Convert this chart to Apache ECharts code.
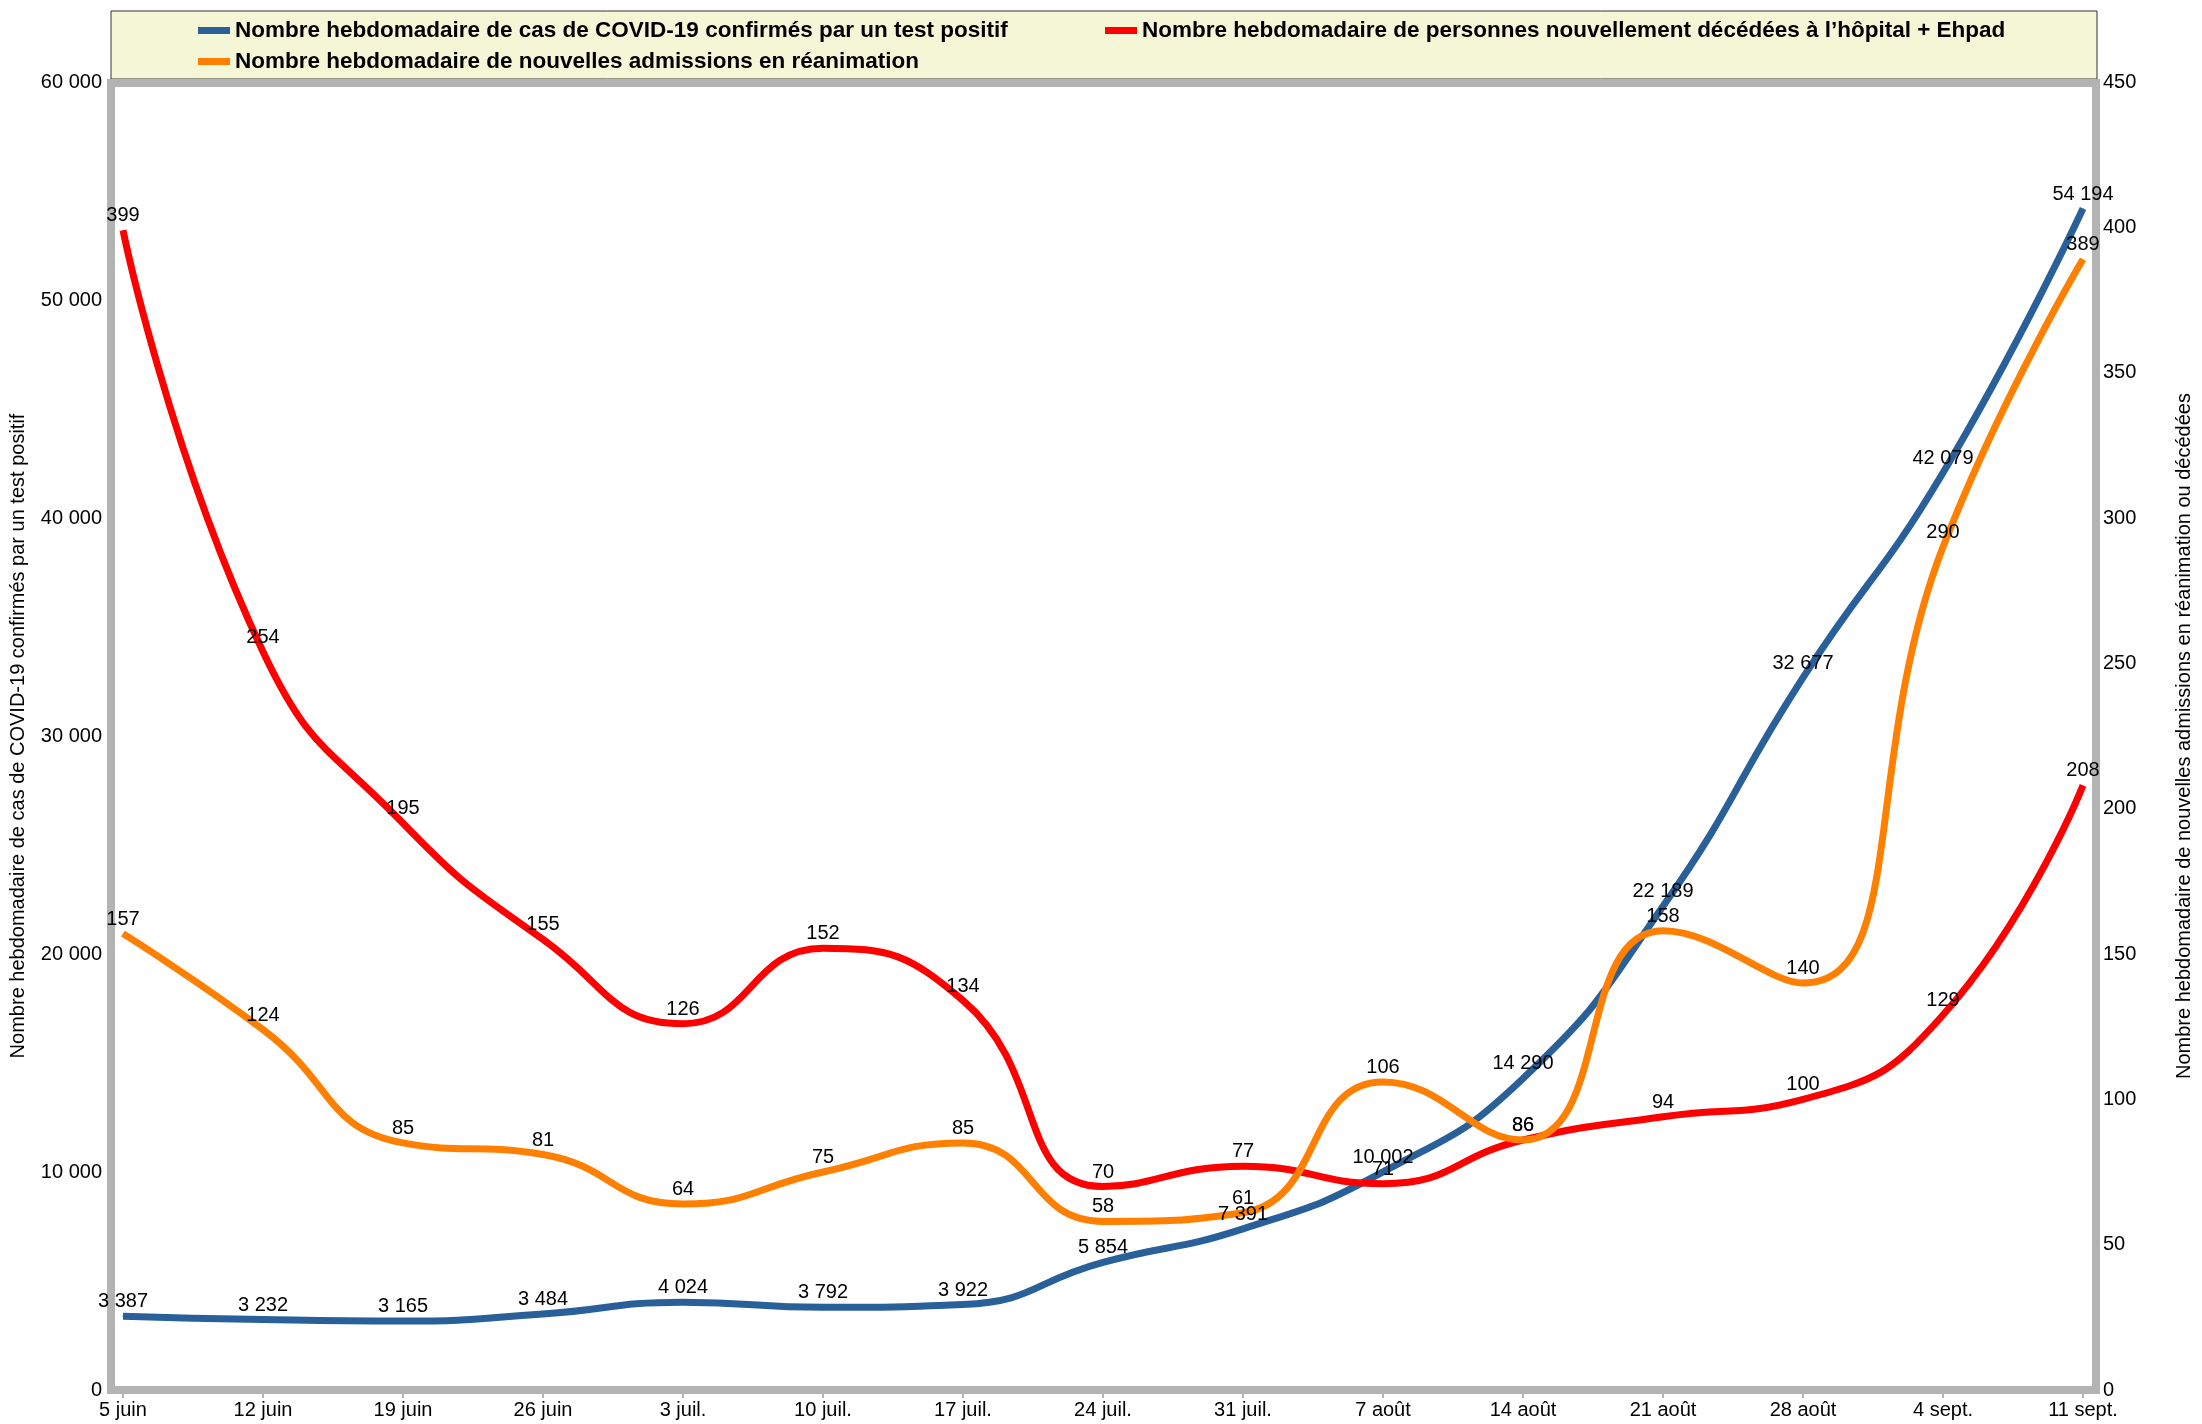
<!DOCTYPE html>
<html>
<head>
<meta charset="utf-8">
<script src="https://cdn.jsdelivr.net/npm/echarts@6/dist/echarts.min.js"></script>
<style>
  html, body { margin: 0; padding: 0; background: #fff; }
  #chart { width: 2202px; height: 1424px; }
</style>
</head>
<body>
<div id="chart"></div>
<script>
// semaines (date de début)
const weeks = ['5 juin', '12 juin', '19 juin', '26 juin', '3 juil.', '10 juil.', '17 juil.',
  '24 juil.', '31 juil.', '7 août', '14 août', '21 août', '28 août', '4 sept.', '11 sept.'];

const casName = 'Nombre hebdomadaire de cas de COVID-19 confirmés par un test positif';
const decesName = 'Nombre hebdomadaire de personnes nouvellement décédées à l\u2019hôpital + Ehpad';
const reaName = 'Nombre hebdomadaire de nouvelles admissions en réanimation';

const cas = [3387, 3232, 3165, 3484, 4024, 3792, 3922, 5854, 7391, 10002, 14290, 22189, 32677, 42079, 54194];
const deces = [399, 254, 195, 155, 126, 152, 134, 70, 77, 71, 86, 94, 100, 129, 208];
const rea = [157, 124, 85, 81, 64, 75, 85, 58, 61, 106, 86, 158, 140, 290, 389];

const font = 'Liberation Sans, Arial, sans-serif';

function fmt(v) {
  return String(v).replace(/\B(?=(\d{3})+(?!\d))/g, ' ');
}

function makeSeries(name, data, color, axis) {
  return {
    name: name,
    type: 'line',
    yAxisIndex: axis,
    data: data,
    smooth: 0.5,
    symbol: 'circle',
    symbolSize: 1,
    lineStyle: { width: 7, color: color },
    itemStyle: { color: color },
    label: {
      show: true,
      position: 'top',
      distance: 4,
      color: '#000',
      fontFamily: font,
      fontSize: 20,
      formatter: p => fmt(p.value)
    },
    emphasis: { disabled: true }
  };
}

function makeLegend(name, left, top) {
  return {
    data: [name],
    left: left,
    top: top,
    padding: 0,
    icon: 'rect',
    itemWidth: 32,
    itemHeight: 7,
    itemGap: 0,
    textStyle: { fontFamily: font, fontSize: 22.5, fontWeight: 'bold', color: '#000' }
  };
}

const chart = echarts.init(document.getElementById('chart'));

const option = {
  animation: false,
  backgroundColor: '#fff',
  textStyle: { fontFamily: font },
  graphic: [
    {
      type: 'rect',
      z: 1,
      shape: { x: 111, y: 11, width: 1986, height: 68 },
      style: { fill: '#f5f6d6', stroke: '#333', lineWidth: 1 }
    },
    {
      type: 'rect',
      z: 1,
      shape: { x: 111, y: 83, width: 1985, height: 1307 },
      style: { fill: 'none', stroke: '#b3b3b3', lineWidth: 8 }
    }
  ],
  legend: [
    makeLegend(casName, 198, 19),
    makeLegend(decesName, 1105, 19),
    makeLegend(reaName, 198, 50)
  ],
  grid: { left: 122, right: 117, top: 82, bottom: 34 },
  xAxis: {
    type: 'category',
    data: weeks,
    boundaryGap: false,
    axisLine: { show: false },
    axisTick: { show: true, length: 8, lineStyle: { color: '#b3b3b3', width: 2 } },
    axisLabel: { color: '#000', fontFamily: font, fontSize: 20, margin: 10 },
    splitLine: { show: false }
  },
  yAxis: [
    {
      type: 'value',
      min: 0,
      max: 60000,
      interval: 10000,
      name: 'Nombre hebdomadaire de cas de COVID-19 confirmés par un test positif',
      nameLocation: 'middle',
      nameRotate: 90,
      nameGap: 95,
      nameTextStyle: { color: '#000', fontFamily: font, fontSize: 20 },
      axisLine: { show: false },
      axisTick: { show: false },
      axisLabel: { color: '#000', fontFamily: font, fontSize: 20, margin: 21, formatter: fmt },
      splitLine: { show: false }
    },
    {
      type: 'value',
      position: 'right',
      min: 0,
      max: 450,
      interval: 50,
      name: 'Nombre hebdomadaire de nouvelles admissions en réanimation ou décédées',
      nameLocation: 'middle',
      nameRotate: 90,
      nameGap: 91,
      nameTextStyle: { color: '#000', fontFamily: font, fontSize: 20 },
      axisLine: { show: false },
      axisTick: { show: false },
      axisLabel: { color: '#000', fontFamily: font, fontSize: 20, margin: 20 },
      splitLine: { show: false }
    }
  ],
  series: [
    makeSeries(casName, cas, '#2a6099', 0),
    makeSeries(decesName, deces, '#ff0000', 1),
    makeSeries(reaName, rea, '#ff8000', 1)
  ]
};

chart.setOption(option);
</script>
</body>
</html>
